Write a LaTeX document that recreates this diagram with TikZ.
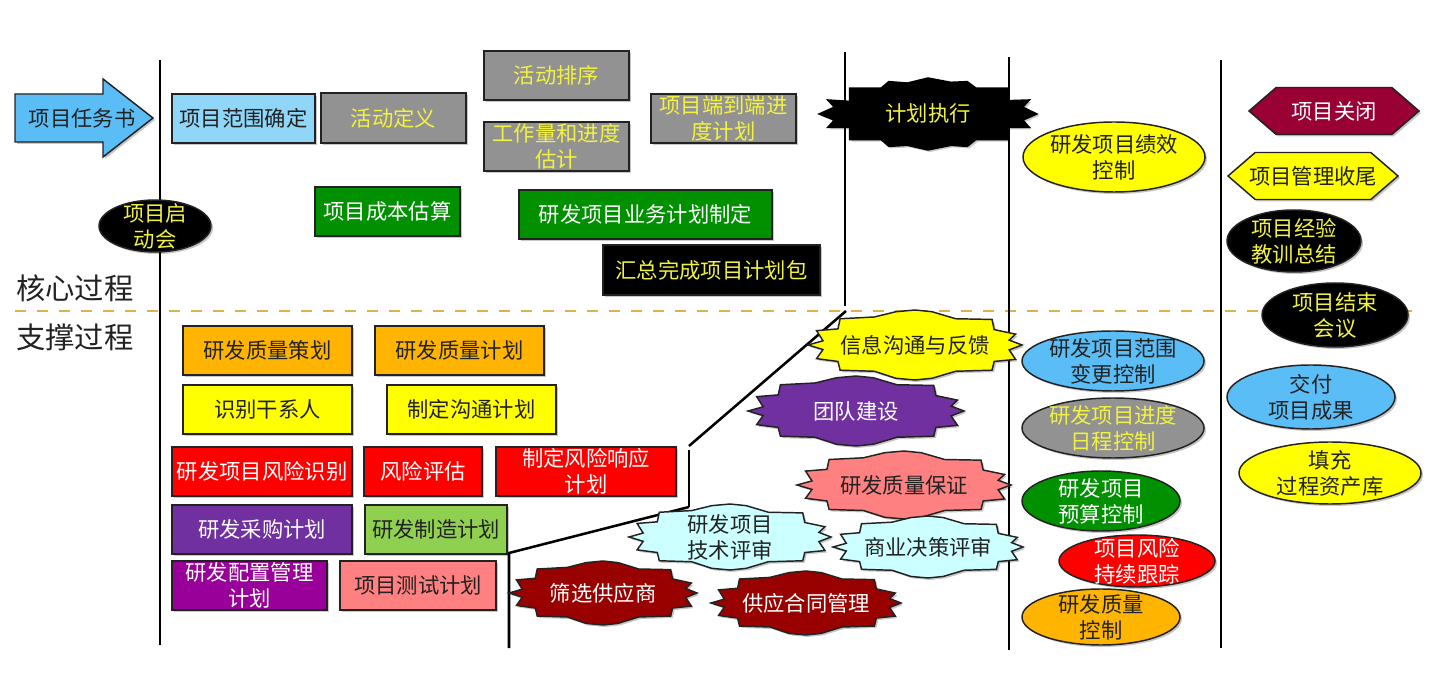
\documentclass[tikz,border=0pt]{standalone}
\usepackage{fontspec}
\setmainfont{Noto Sans CJK SC}
\usetikzlibrary{shadows}
\definecolor{cgrey}{HTML}{929292}
\definecolor{cblue}{HTML}{5BBDF5}
\definecolor{clblue}{HTML}{8FD6F8}
\definecolor{cgreen}{HTML}{009000}
\definecolor{corange}{HTML}{FFB400}
\definecolor{cyel}{HTML}{FFFF00}
\definecolor{cred}{HTML}{FF0000}
\definecolor{cpurple}{HTML}{7030A0}
\definecolor{cmag}{HTML}{990099}
\definecolor{clgreen}{HTML}{8FD050}
\definecolor{csalmon}{HTML}{FF8080}
\definecolor{ccyan}{HTML}{CCFFFF}
\definecolor{cdred}{HTML}{990000}
\definecolor{cwine}{HTML}{990033}
\definecolor{ink}{HTML}{222222}
\definecolor{tyel}{HTML}{F2F240}
\definecolor{dashc}{HTML}{E0B050}
\tikzset{
  x=.75pt,y=-.75pt,
  softshadow/.style={drop shadow={shadow xshift=1.5pt,shadow yshift=-1.5pt,opacity=.22,fill=black}},
  shapeline/.style={draw=ink,line width=1.1pt,softshadow},
  label/.style={font=\fontsize{16}{19.5}\selectfont,align=center,inner sep=0pt},
  divider/.style={draw=black,line width=1.9pt},
  headtext/.style={font=\fontsize{22}{26}\selectfont,text=ink,inner sep=0pt},
}
% name, x0, x1, y0, y1, fill, text colour, text
\newcommand{\bx}[8]{\node[shapeline,label,fill=#6,text=#7,minimum width={(#3-#2)*.75pt},minimum height={(#5-#4)*.75pt}] (#1) at ({(#2+#3)/2},{(#4+#5)/2}) {#8};}
% name, cx, cy, rx, ry, fill, text colour, text
\newcommand{\elp}[8]{\draw[shapeline,fill=#6] (#2,#3) ellipse [x radius=#4,y radius=#5];\node[label,text=#7] (#1) at (#2,#3) {#8};}
\newcommand{\burst}[8]{\begin{scope}[shift={(#2,#3)},xscale=#4,yscale=#5]
\draw[shapeline,fill=#6] (-1,0)--(-.86,-.12)--(-.92,-.41)--(-.72,-.46)--(-.70,-.75)--(-.38,-.80)--(-.18,-.95)--(0,-1)--(.16,-.95)--(.38,-.75)--(.72,-.73)--(.74,-.44)--(.94,-.31)--(.88,-.14)--(1,0)--(.88,.14)--(.94,.41)--(.74,.47)--(.72,.72)--(.38,.75)--(.16,.95)--(0,1)--(-.18,.95)--(-.38,.75)--(-.70,.72)--(-.72,.47)--(-.92,.39)--(-.86,.13)--cycle;
\end{scope}\node[label,text=#7] (#1) at (#2,#3) {#8};}
\newcommand{\hexa}[8]{\begin{scope}[shift={(#2,#3)},xscale=#4,yscale=#5]
\draw[shapeline,fill=#6] (-1,0)--(-.68,-1)--(.68,-1)--(1,0)--(.68,1)--(-.68,1)--cycle;
\end{scope}\node[label,text=#7] (#1) at (#2,#3) {#8};}
\begin{document}
\begin{tikzpicture}
\useasboundingbox (0,0) rectangle (1432,680);
% dividers
\coordinate (a1) at (160,60); \coordinate (a2) at (160,645);
\coordinate (b1) at (845,52); \coordinate (b2) at (845,306);
\coordinate (b2a) at (846,311); \coordinate (b3) at (689,446);
\coordinate (b3a) at (689,450);
\coordinate (b4) at (689,507); \coordinate (b5) at (509,553); \coordinate (b6) at (509,648);
\coordinate (c1) at (1009,57); \coordinate (c2) at (1009,650);
\coordinate (d1) at (1221,60); \coordinate (d2) at (1221,648);
\coordinate (h1) at (15,311); \coordinate (h2) at (1418,311);
\draw[draw=dashc,line width=1.5pt,dash pattern=on 8pt off 8.5pt] (h1)--(h2);
\draw[divider] (a1)--(a2);
\draw[divider] (b1)--(b2);
\draw[divider] (b2a)--(b3);
\draw[divider] (b3a)--(b4);
\draw[divider] (b4)--(b5)--(b6);
\draw[divider] (c1)--(c2);
\draw[divider] (d1)--(d2);
% heads
\node[headtext] (core) at (75,288) {核心过程};
\node[headtext] (supp) at (75,337) {支撑过程};
% arrow
\draw[shapeline,fill=cblue] (15,94)--(103,94)--(103,79)--(153,118)--(103,157)--(103,142)--(15,142)--cycle;
\node[label,text=ink] (charter) at (82,118) {项目任务书};
% top
\bx{scope}{172}{315}{94}{143}{clblue}{ink}{项目范围确定}
\bx{actdef}{321}{466}{93}{143}{cgrey}{tyel}{活动定义}
\bx{actseq}{484}{629}{51}{100}{cgrey}{tyel}{活动排序}
\bx{effort}{484}{629}{122}{171}{cgrey}{tyel}{工作量和进度\\估计}
\bx{e2e}{651}{796}{94}{143}{cgrey}{tyel}{项目端到端进\\度计划}
\bx{cost}{315}{460}{187}{236}{cgreen}{white}{项目成本估算}
\bx{bizplan}{519}{772}{190}{239}{cgreen}{white}{研发项目业务计划制定}
\bx{package}{603}{820}{245}{295}{black}{tyel}{汇总完成项目计划包}
\elp{kick}{155}{226}{56}{26}{black}{tyel}{项目启\\动会}
% lower left
\bx{qplan1}{183}{352}{326}{375}{corange}{ink}{研发质量策划}
\bx{qplan2}{375}{544}{326}{375}{corange}{ink}{研发质量计划}
\bx{stake}{183}{352}{385}{434}{cyel}{ink}{识别干系人}
\bx{comm}{387}{556}{385}{434}{cyel}{ink}{制定沟通计划}
\bx{risk1}{172}{352}{447}{496}{cred}{white}{研发项目风险识别}
\bx{risk2}{364}{482}{447}{496}{cred}{white}{风险评估}
\bx{risk3}{496}{676}{447}{496}{cred}{white}{制定风险响应\\计划}
\bx{purch}{172}{352}{505}{554}{cpurple}{white}{研发采购计划}
\bx{manuf}{365}{507}{505}{554}{clgreen}{ink}{研发制造计划}
\bx{config}{172}{327}{561}{610}{cmag}{white}{研发配置管理\\计划}
\bx{test}{340}{496}{561}{610}{csalmon}{ink}{项目测试计划}
% bursts
\begin{scope}[shift={(928,114)},xscale=109,yscale=36]
\draw[shapeline,fill=black,draw=black] (-1,0)--(-.86,-.19)--(-.92,-.39)--(-.72,-.35)--(-.72,-.72)--(-.43,-.72)--(-.36,-.9)--(-.19,-.86)--(0,-1)--(.21,-.88)--(.36,-.9)--(.44,-.72)--(.73,-.72)--(.73,-.37)--(.93,-.39)--(.87,-.19)--(1,0)--(.87,.17)--(.93,.37)--(.73,.37)--(.73,.71)--(.44,.71)--(.36,.9)--(.21,.87)--(0,1)--(-.19,.87)--(-.36,.9)--(-.43,.71)--(-.72,.71)--(-.72,.37)--(-.92,.37)--(-.86,.17)--cycle;
\end{scope}
\node[label,text=tyel] (exec) at (928,113) {计划执行};
\burst{info}{915}{345}{107}{35}{cyel}{ink}{信息沟通与反馈}
\burst{team}{856}{411}{108}{35}{cpurple}{white}{团队建设}
\burst{qa}{904}{485}{107}{34}{csalmon}{ink}{研发质量保证}
\burst{techrev}{730}{537}{101}{33}{ccyan}{ink}{研发项目\\技术评审}
\burst{bizrev}{928}{547}{95}{31}{ccyan}{ink}{商业决策评审}
\burst{vendor}{603}{593}{94}{32}{cdred}{white}{筛选供应商}
\burst{contract}{806}{603}{95}{32}{cdred}{white}{供应合同管理}
% control
\elp{perf}{1114}{157}{91}{35}{cyel}{ink}{研发项目绩效\\控制}
\elp{scopectl}{1113}{361}{91}{30}{cblue}{ink}{研发项目范围\\变更控制}
\elp{sched}{1113}{428}{91}{30}{cgrey}{tyel}{研发项目进度\\日程控制}
\elp{budget}{1101}{501}{79}{30}{cgreen}{white}{研发项目\\预算控制}
\elp{risktrack}{1137}{561}{78}{26}{cred}{white}{项目风险\\持续跟踪}
\elp{qctl}{1101}{617}{79}{28}{corange}{ink}{研发质量\\控制}
% closing
\hexa{close}{1334}{111}{85}{23.5}{cwine}{white}{项目关闭}
\hexa{wrap}{1313}{176}{85}{23.5}{cyel}{ink}{项目管理收尾}
\elp{lessons}{1294}{241}{67}{31}{black}{tyel}{项目经验\\教训总结}
\elp{endmeet}{1335}{315}{73}{32}{black}{tyel}{项目结束\\会议}
\elp{deliver}{1311}{397}{84}{32}{cblue}{ink}{交付\\项目成果}
\elp{assets}{1330}{473}{91}{31}{cyel}{ink}{填充\\过程资产库}
\end{tikzpicture}
\end{document}
